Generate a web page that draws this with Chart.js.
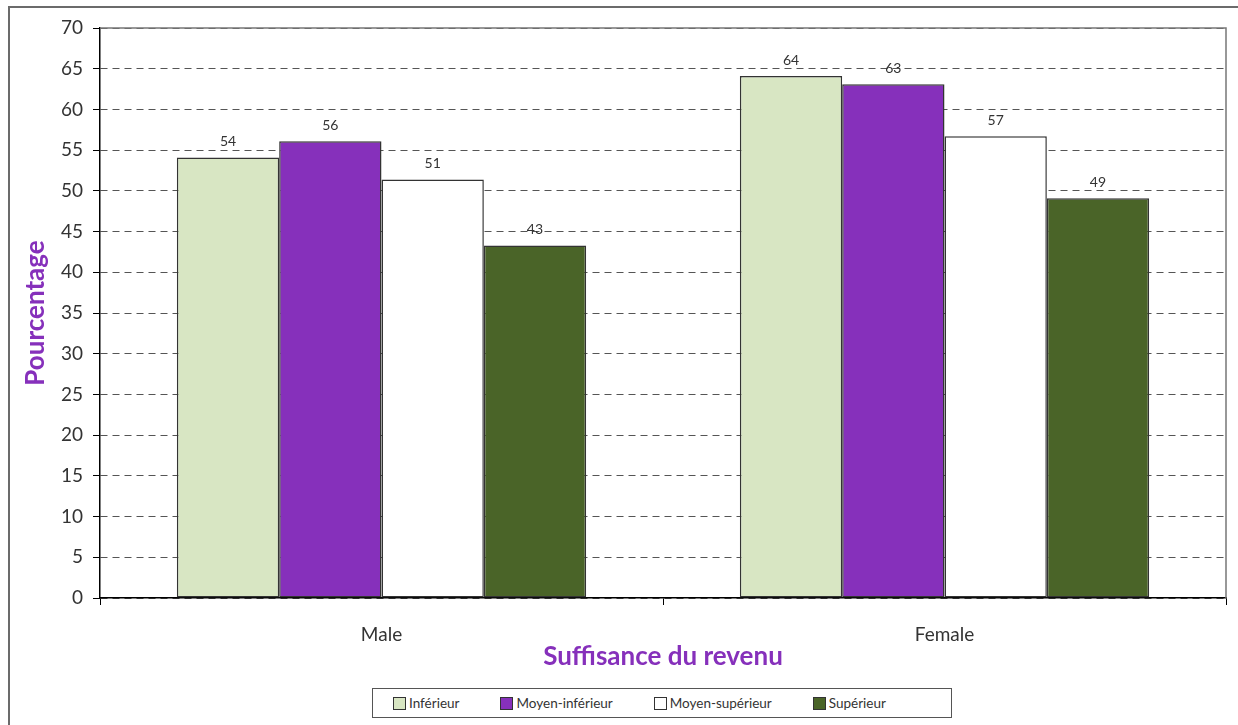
<!DOCTYPE html>
<html>
<head>
<meta charset="utf-8">
<script src="https://cdn.jsdelivr.net/npm/chart.js@4.4.1/dist/chart.umd.min.js"></script>
<style>
  html, body { margin: 0; padding: 0; background: #fff; overflow: hidden; }
  #wrap { position: relative; width: 1238px; height: 725px; }
  #frame { position: absolute; left: 8px; top: 6px; width: 1300px; height: 800px; border: 2px solid #6b6b6b; box-sizing: border-box; }
  #chart { position: absolute; left: 0; top: 0; }
  #legend {
    position: absolute; left: 372px; top: 688px; width: 580px; height: 30px;
    border: 1px solid #555; box-sizing: border-box; background: #fff;
    display: flex; align-items: center; padding-left: 20px; gap: 41px;
    font-family: Lato, "DejaVu Sans", sans-serif; font-size: 13.5px; color: #333;
  }
  #legend span.item { display: flex; align-items: center; white-space: nowrap; }
  #legend span.box { display: inline-block; width: 11px; height: 11px; border: 1px solid #333; margin-right: 3px; }
</style>
</head>
<body>
<div id="wrap">
  <div id="frame"></div>
  <canvas id="chart" width="1238" height="725"></canvas>
  <div id="legend"></div>
</div>
<script>
// categories and series
const categories = ['Male', 'Female'];
const seriesNames = ['Inférieur', 'Moyen-inférieur', 'Moyen-supérieur', 'Supérieur'];
const inferieur = [54.1, 64.1];
const moyenInferieur = [56.1, 63.1];
const moyenSuperieur = [51.4, 56.7];
const superieur = [43.3, 49.1];
const seriesColors = ['#d8e6c3', '#8630bb', '#ffffff', '#4a6428'];

const fontFamily = 'Lato, "DejaVu Sans", sans-serif';
const purple = '#8630bb';

// legend in HTML (boxed, like the original)
const legendEl = document.getElementById('legend');
seriesNames.forEach(function (name, i) {
    const item = document.createElement('span');
    item.className = 'item';
    const box = document.createElement('span');
    box.className = 'box';
    box.style.background = seriesColors[i];
    item.appendChild(box);
    item.appendChild(document.createTextNode(name));
    legendEl.appendChild(item);
});

// plot border + value labels above bars
const plotFrame = {
    id: 'plotFrame',
    beforeDatasetsDraw(chart) {
        const a = chart.chartArea;
        const ctx = chart.ctx;
        ctx.save();
        ctx.strokeStyle = '#777';
        ctx.lineWidth = 1.5;
        ctx.beginPath();
        ctx.moveTo(a.left, a.top);
        ctx.lineTo(a.right, a.top);
        ctx.lineTo(a.right, a.bottom);
        ctx.stroke();
        ctx.restore();
    },
    afterDatasetsDraw(chart) {
        const ctx = chart.ctx;
        ctx.save();
        ctx.font = '14px ' + fontFamily;
        ctx.fillStyle = '#333';
        ctx.textAlign = 'center';
        ctx.textBaseline = 'bottom';
        chart.data.datasets.forEach(function (ds, di) {
            chart.getDatasetMeta(di).data.forEach(function (bar, i) {
                ctx.fillText(Math.round(ds.data[i]), bar.x, bar.y - 9);
            });
        });
        ctx.restore();
    }
};

const allSeries = [inferieur, moyenInferieur, moyenSuperieur, superieur];

new Chart(document.getElementById('chart').getContext('2d'), {
    type: 'bar',
    data: {
        labels: categories,
        datasets: allSeries.map(function (vals, i) {
            return {
                label: seriesNames[i],
                data: vals,
                backgroundColor: seriesColors[i],
                borderColor: '#333',
                borderWidth: 1.5,
                borderSkipped: false,
                categoryPercentage: 0.727,
                barPercentage: 1.0
            };
        })
    },
    options: {
        responsive: false,
        animation: false,
        layout: { padding: { left: 0, top: 28, right: 12, bottom: 0 } },
        plugins: {
            legend: { display: false },
            tooltip: { enabled: false }
        },
        scales: {
            x: {
                afterFit(scale) { scale.height = 127; },
                grid: { offset: true, drawOnChartArea: false, tickLength: 7, color: '#000', lineWidth: 1 },
                border: { color: '#000', width: 1.5 },
                ticks: { color: '#333', padding: 18, font: { family: fontFamily, size: 19 } },
                title: {
                    display: true, text: 'Suffisance du revenu', color: purple,
                    font: { family: fontFamily, size: 26, weight: 'bold' },
                    padding: { top: 0, bottom: 53 }
                }
            },
            y: {
                min: 0, max: 70,
                afterFit(scale) { scale.width = 100; },
                grid: { color: '#555', lineWidth: 1, tickLength: 7, tickColor: '#000', tickBorderDash: [] },
                border: { color: '#000', width: 1.5, dash: [7, 5] },
                ticks: { stepSize: 5, color: '#333', padding: 10, font: { family: fontFamily, size: 19 } },
                title: {
                    display: true, text: 'Pourcentage', color: purple,
                    font: { family: fontFamily, size: 26, weight: 'bold' },
                    padding: { top: 20, bottom: 0 }
                }
            }
        }
    },
    plugins: [plotFrame]
});
</script>
</body>
</html>
